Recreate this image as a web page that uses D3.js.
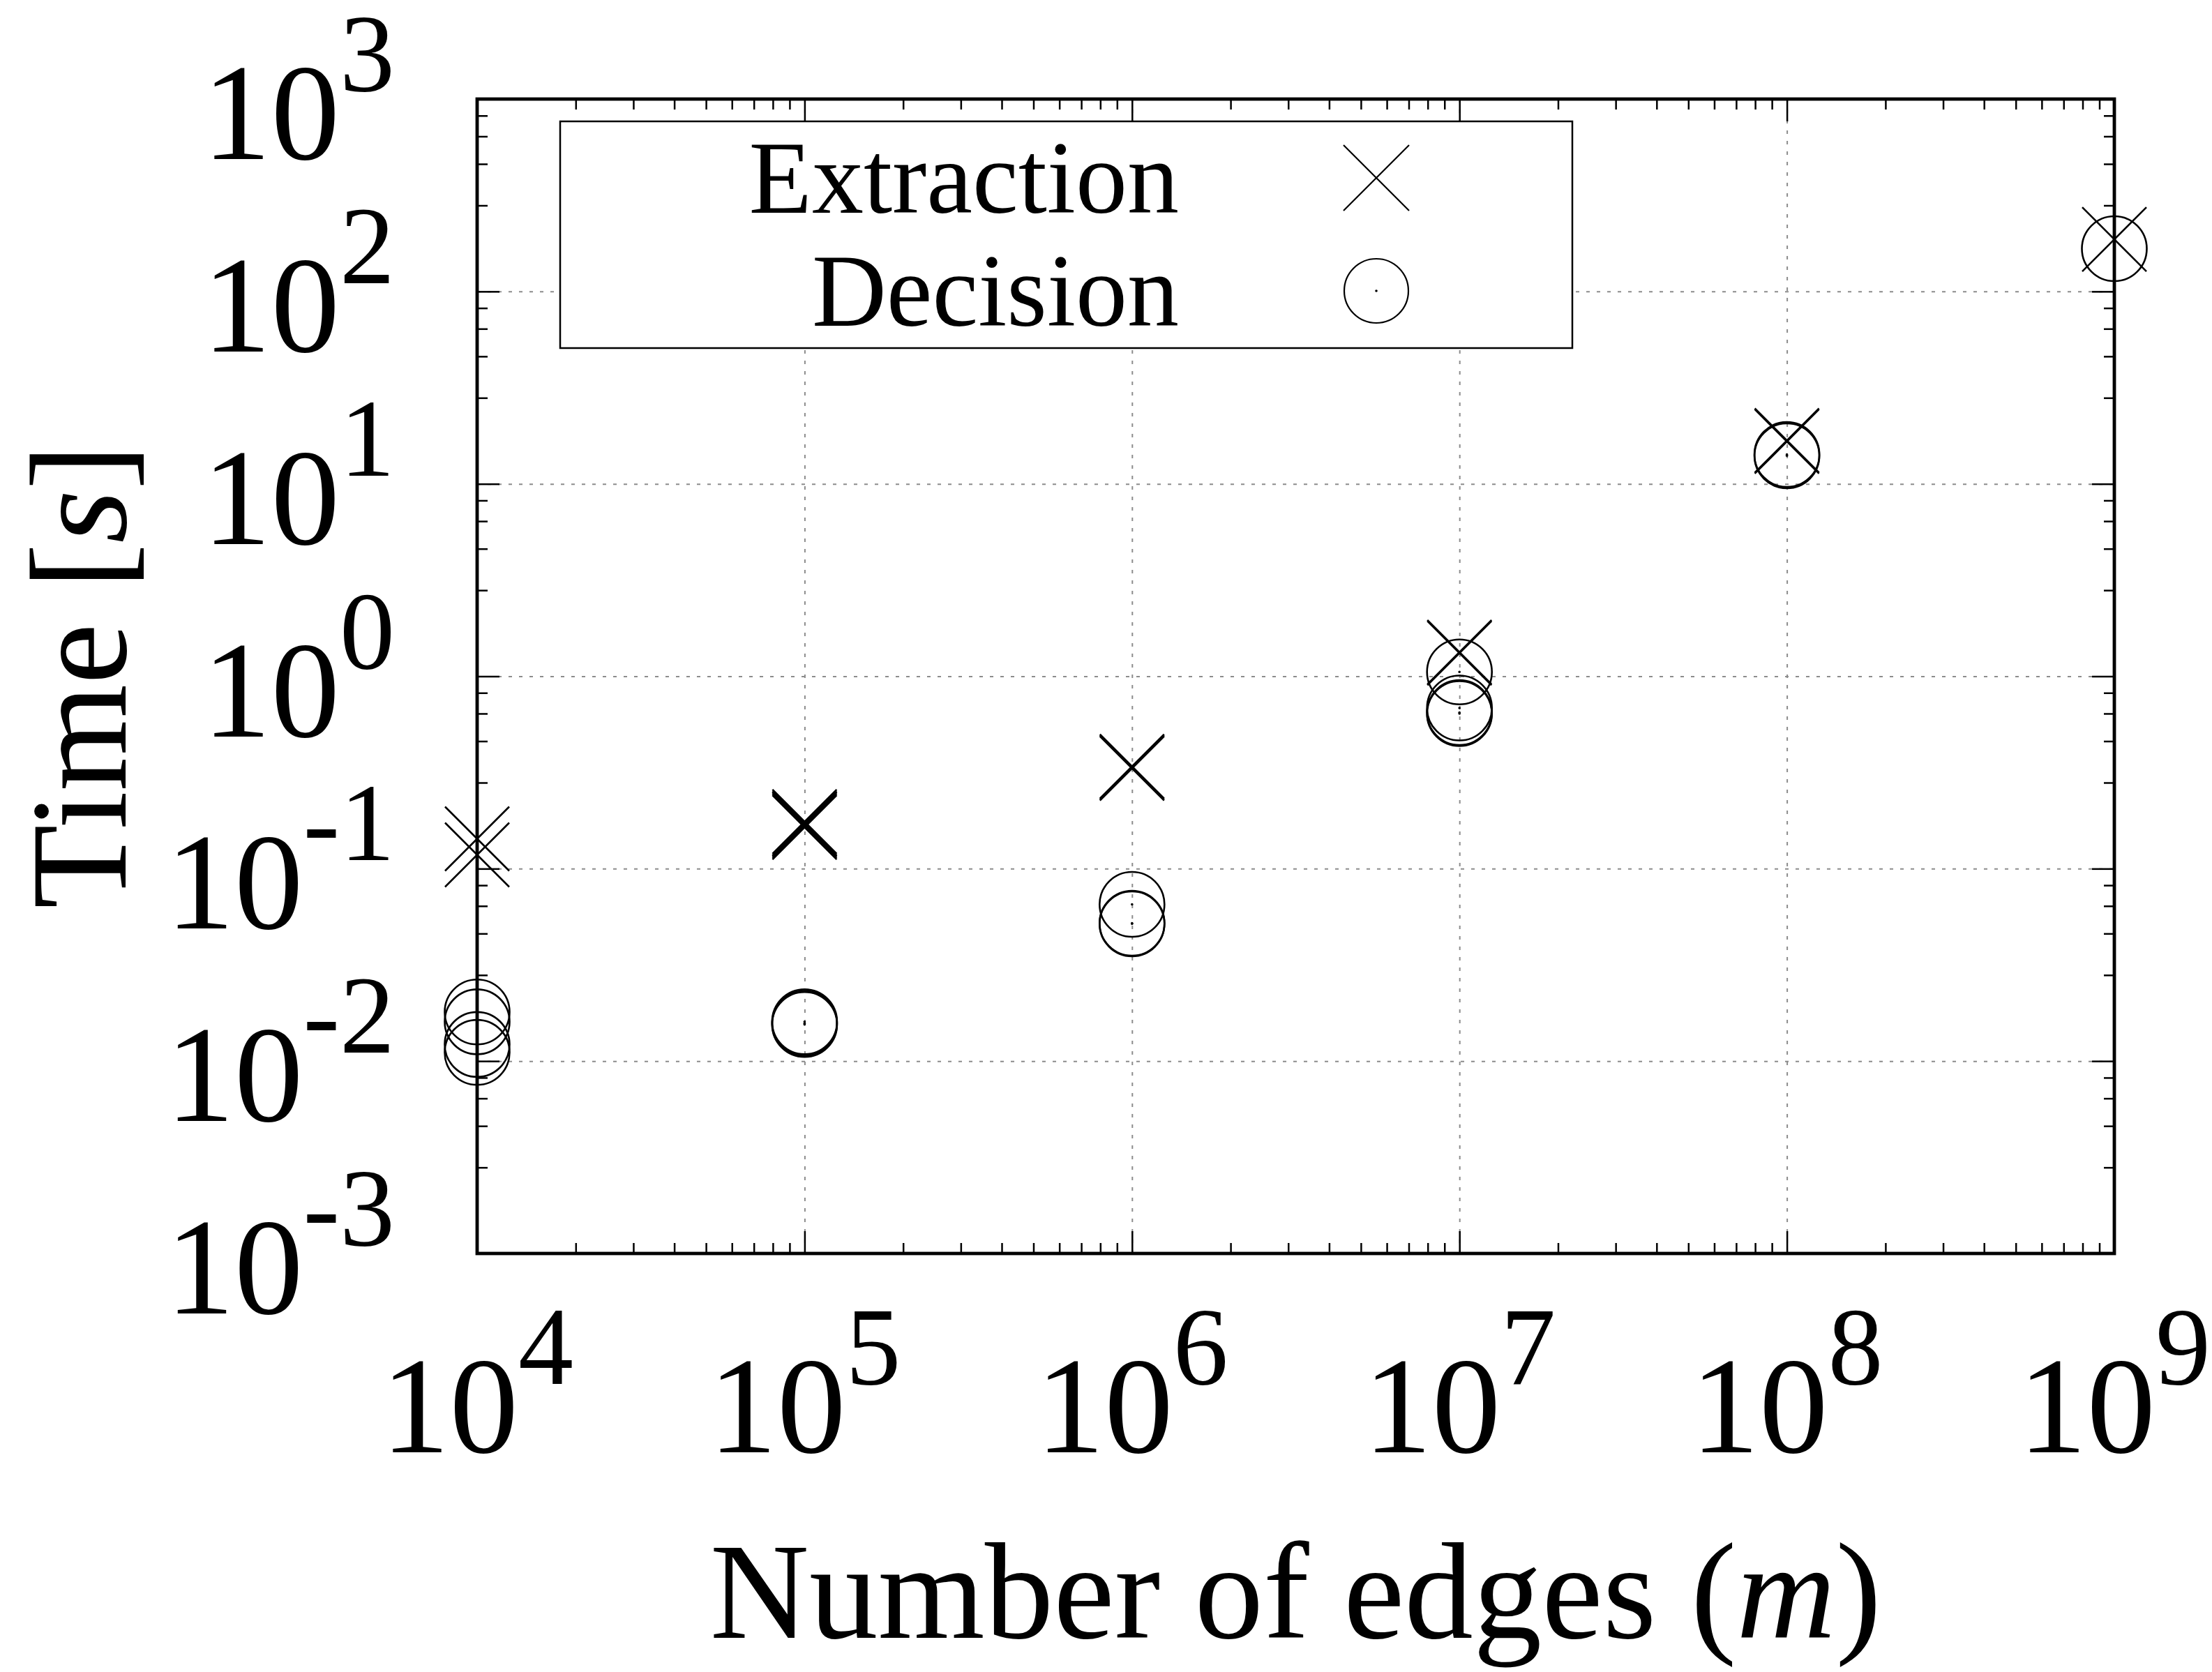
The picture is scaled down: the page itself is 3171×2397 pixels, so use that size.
<!DOCTYPE html>
<html>
<head>
<meta charset="utf-8">
<script src="https://cdn.jsdelivr.net/npm/d3@7"></script>
<style>
  html, body { margin: 0; padding: 0; background: #fff; }
  svg { display: block; }
  text { font-family: "Liberation Serif", "DejaVu Serif", serif; fill: #000; }
</style>
</head>
<body>
<svg id="chart" width="3171" height="2397"></svg>
<script>
// values (several runs per size overlap)
const edgeCounts = [1e4, 1e5, 1e6, 1e7, 1e8, 1e9];
const extractionTimes = [
    [0.143, 0.118],
    [0.1755, 0.172, 0.170, 0.167, 0.164],
    [0.340, 0.336, 0.332],
    [1.335, 1.32],
    [16.8, 16.6],
    [186.6]
];
const decisionTimes = [
    [0.0180, 0.0160, 0.0122, 0.0111],
    [0.0160, 0.0157, 0.0155],
    [0.0652, 0.0521, 0.0517],
    [1.054, 0.684, 0.648, 0.640],
    [14.2, 14.0],
    [166.8]
];
const seriesNames = ["Extraction", "Decision"];

const xTicks = [1e4, 1e5, 1e6, 1e7, 1e8, 1e9];
const yTicks = [1e-3, 1e-2, 1e-1, 1e0, 1e1, 1e2, 1e3];
const xTickExponents = ["4", "5", "6", "7", "8", "9"];
const yTickExponents = ["-3", "-2", "-1", "0", "1", "2", "3"];

const W = 3171, H = 2397;
const plot = { left: 684, right: 3031, top: 142, bottom: 1797 };
const plotW = plot.right - plot.left, plotH = plot.bottom - plot.top;
const majorLen = 32, minorLen = 15;
const fontSize = 197, supSize = 158, supRise = 98;

const svg = d3.select("#chart");

const x = d3.scaleLog().domain([1e4, 1e9]).range([plot.left, plot.right]);
const y = d3.scaleLog().domain([1e-3, 1e3]).range([plot.bottom, plot.top]);

// minor ticks: 2..9 per decade on x, linear steps of 1.8 on y (like the original)
let xMinor = [], yMinor = [];
for (let e = 4; e < 9; e++) {
    for (let k = 2; k <= 9; k++) xMinor.push(k * Math.pow(10, e));
}
for (let e = -3; e < 3; e++) {
    for (let k = 1; k <= 4; k++) yMinor.push((1 + 1.8 * k) * Math.pow(10, e));
}

// grid
const gridStyle = g => {
    g.select(".domain").remove();
    g.selectAll("line")
        .attr("stroke", "#8c8c8c")
        .attr("stroke-width", 2)
        .attr("stroke-dasharray", "5,10");
};
svg.append("g")
    .attr("transform", "translate(" + plot.left + ",0)")
    .call(d3.axisLeft(y).tickValues(yTicks.slice(1, -1)).tickSize(-plotW).tickFormat(""))
    .call(gridStyle);
svg.append("g")
    .attr("transform", "translate(0," + plot.bottom + ")")
    .call(d3.axisBottom(x).tickValues(xTicks.slice(1, -1)).tickSize(-plotH).tickFormat(""))
    .call(gridStyle);

// ticks on all four sides, pointing inward
function tickGroup(axis, tx, ty) {
    svg.append("g")
        .attr("transform", "translate(" + tx + "," + ty + ")")
        .call(axis.tickFormat(""))
        .call(g => {
            g.select(".domain").remove();
            g.selectAll("line").attr("stroke", "#000").attr("stroke-width", 2.5);
        });
}
tickGroup(d3.axisBottom(x).tickValues(xTicks).tickSize(-majorLen), 0, plot.bottom);
tickGroup(d3.axisBottom(x).tickValues(xMinor).tickSize(-minorLen), 0, plot.bottom);
tickGroup(d3.axisTop(x).tickValues(xTicks).tickSize(-majorLen), 0, plot.top);
tickGroup(d3.axisTop(x).tickValues(xMinor).tickSize(-minorLen), 0, plot.top);
tickGroup(d3.axisLeft(y).tickValues(yTicks).tickSize(-majorLen), plot.left, 0);
tickGroup(d3.axisLeft(y).tickValues(yMinor).tickSize(-minorLen), plot.left, 0);
tickGroup(d3.axisRight(y).tickValues(yTicks).tickSize(-majorLen), plot.right, 0);
tickGroup(d3.axisRight(y).tickValues(yMinor).tickSize(-minorLen), plot.right, 0);

// tick labels 10^n
function powerLabel(sel, exps) {
    sel.append("tspan").text("10");
    sel.append("tspan")
        .attr("dy", -supRise)
        .attr("font-size", supSize)
        .text((d, i) => exps[i]);
}
svg.append("g").selectAll("text")
    .data(yTicks)
    .join("text")
    .attr("x", 566)
    .attr("y", d => y(d) + 86)
    .attr("text-anchor", "end")
    .attr("font-size", fontSize)
    .call(powerLabel, yTickExponents);
svg.append("g").selectAll("text")
    .data(xTicks)
    .join("text")
    .attr("x", d => x(d))
    .attr("y", plot.bottom + 285)
    .attr("text-anchor", "middle")
    .attr("font-size", fontSize)
    .call(powerLabel, xTickExponents);

// axis titles
const xTitle = svg.append("text")
    .attr("x", (plot.left + plot.right) / 2)
    .attr("y", 2348)
    .attr("text-anchor", "middle")
    .attr("font-size", fontSize);
xTitle.append("tspan").text("Number of edges (");
xTitle.append("tspan").attr("font-style", "italic").text("m");
xTitle.append("tspan").text(")");

const yTitle = svg.append("text")
    .attr("transform", "translate(180," + ((plot.top + plot.bottom) / 2) + ") rotate(-90)")
    .attr("text-anchor", "middle")
    .attr("font-size", fontSize);
yTitle.append("tspan").text("Time [");
yTitle.append("tspan").attr("font-style", "italic").text("s");
yTitle.append("tspan").text("]");

// markers
function drawCross(g, cx, cy, r, lw) {
    g.append("path")
        .attr("d", "M" + (cx - r) + "," + (cy - r) + "L" + (cx + r) + "," + (cy + r) +
                   "M" + (cx - r) + "," + (cy + r) + "L" + (cx + r) + "," + (cy - r))
        .attr("fill", "none")
        .attr("stroke", "#000")
        .attr("stroke-width", lw);
}
function drawCircle(g, cx, cy, r, lw) {
    g.append("circle")
        .attr("cx", cx).attr("cy", cy).attr("r", r)
        .attr("fill", "none")
        .attr("stroke", "#000")
        .attr("stroke-width", lw);
    g.append("circle")
        .attr("cx", cx).attr("cy", cy).attr("r", 1.8)
        .attr("fill", "#000");
}

// legend (opaque box)
const legend = svg.append("g");
legend.append("rect")
    .attr("x", 803).attr("y", 174)
    .attr("width", 2254 - 803).attr("height", 499 - 174)
    .attr("fill", "#fff")
    .attr("stroke", "#000")
    .attr("stroke-width", 2.5);
const legendRows = [305, 467];
legend.selectAll("text")
    .data(seriesNames)
    .join("text")
    .attr("x", 1690)
    .attr("y", (d, i) => legendRows[i])
    .attr("text-anchor", "end")
    .attr("font-size", 148)
    .text(d => d);
drawCross(legend, 1973, legendRows[0] - 50, 47, 2.2);
drawCircle(legend, 1973, legendRows[1] - 50, 46, 2.2);

// data points
const pts = svg.append("g");
edgeCounts.forEach((m, i) => {
    extractionTimes[i].forEach(t => drawCross(pts, x(m), y(t), 46, 2.6));
    decisionTimes[i].forEach(t => drawCircle(pts, x(m), y(t), 46.5, 2.6));
});

// frame
svg.append("rect")
    .attr("x", plot.left).attr("y", plot.top)
    .attr("width", plotW).attr("height", plotH)
    .attr("fill", "none")
    .attr("stroke", "#000")
    .attr("stroke-width", 4.8);
</script>
</body>
</html>
